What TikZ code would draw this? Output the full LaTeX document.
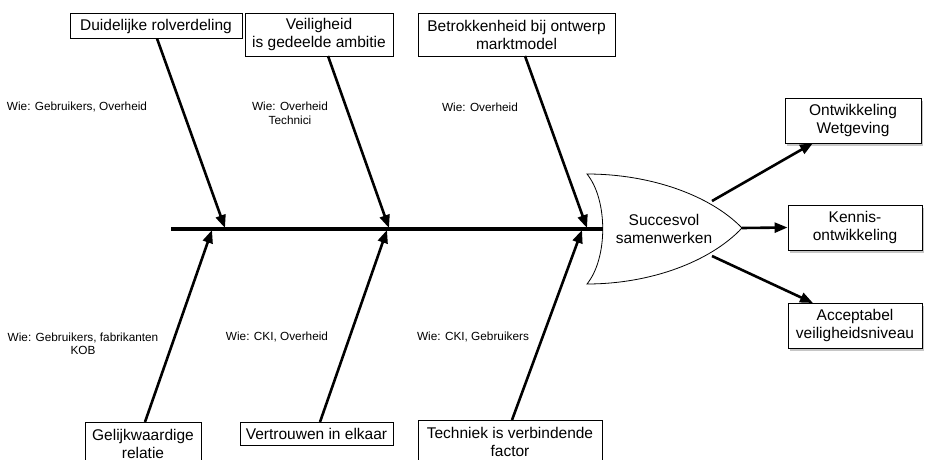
\documentclass[tikz,border=0pt]{standalone}
\usepackage{fontspec}
\setmainfont{Liberation Sans}
\usetikzlibrary{arrows.meta,shadows}
\begin{document}
\begin{tikzpicture}[x=1pt,y=-1pt,
  box/.style={draw,line width=0.9pt,fill=white,font=\fontsize{15.5}{18}\selectfont,align=center,inner sep=0pt},
  rbox/.style={box,drop shadow={shadow xshift=2pt,shadow yshift=-3pt,opacity=0.45}},
  lab/.style={font=\fontsize{11.8}{13.5}\selectfont,align=center,inner sep=0pt},
  bone/.style={line width=2.6pt,-{Triangle[length=13pt,width=10pt]}},
  spine/.style={line width=3.5pt},
  headshape/.style={draw,line width=0.8pt,fill=white}]
\useasboundingbox (0,0) rectangle (926,460);

% head of the fish
\draw[headshape] (587,174) .. controls (608,200) and (608,258) .. (587,284)
  .. controls (650,284) and (710,262) .. (742,228)
  .. controls (710,195) and (650,174) .. (587,174) -- cycle;
\node[font=\fontsize{15.5}{18}\selectfont,align=center] (head) at (664,229) {Succesvol\\samenwerken};

% spine
\coordinate (s0) at (171,229);
\coordinate (s1) at (603,229);
\draw[spine] (s0) -- (s1);

% top cause boxes
\node[box,minimum width=172pt,minimum height=25pt] (b1) at (156,26) {Duidelijke rolverdeling};
\node[box,minimum width=148pt,minimum height=43pt] (b2) at (319,34.5) {Veiligheid\\is gedeelde ambitie};
\node[box,minimum width=197pt,minimum height=43pt] (b3) at (516.5,34.5) {Betrokkenheid bij ontwerp\\marktmodel};

% bottom cause boxes
\node[box,minimum width=116pt,minimum height=43pt] (c1) at (143,443.5) {Gelijkwaardige\\relatie};
\node[box,minimum width=153pt,minimum height=23pt] (c2) at (316.5,433.5) {Vertrouwen in elkaar};
\node[box,minimum width=184pt,minimum height=43pt] (c3) at (510,441.5) {Techniek is verbindende\\factor};

% effect boxes
\node[rbox,minimum width=136pt,minimum height=45pt] (r1) at (853,120.5) {Ontwikkeling\\Wetgeving};
\node[rbox,minimum width=134pt,minimum height=45pt] (r2) at (855,227.5) {Kennis-\\ontwikkeling};
\node[rbox,minimum width=134pt,minimum height=45pt] (r3) at (855,325.5) {Acceptabel\\veiligheidsniveau};

% bone anchor coordinates
\coordinate (b1s) at (157,38.5);
\coordinate (b2s) at (328,56);
\coordinate (b3s) at (525,56);
\coordinate (a1) at (225,228);
\coordinate (a2) at (389,228);
\coordinate (a3) at (587,228);
\coordinate (c1n) at (145,422);
\coordinate (c2n) at (320,422);
\coordinate (c3n) at (512,420);
\coordinate (d1) at (212,230);
\coordinate (d2) at (387,230);
\coordinate (d3) at (582,230);

\draw[bone] (b1s) -- (a1);
\draw[bone] (b2s) -- (a2);
\draw[bone] (b3s) -- (a3);
\draw[bone] (c1n) -- (d1);
\draw[bone] (c2n) -- (d2);
\draw[bone] (c3n) -- (d3);

% effects
\coordinate (h1) at (712,201);
\coordinate (h2) at (742,228);
\coordinate (h3) at (712,256);
\coordinate (t1) at (813,143);
\coordinate (t3) at (813,303);
\draw[bone] (h1) -- (t1);
\draw[bone] (h2) -- (r2.west);
\draw[bone] (h3) -- (t3);

% labels
\node[lab] (l1) at (77,107) {Wie: Gebruikers, Overheid};
\node[lab] (l2) at (290,113.5) {Wie: Overheid\\Technici};
\node[lab] (l3) at (480,107) {Wie: Overheid};
\node[lab] (l4) at (83,344) {Wie: Gebruikers, fabrikanten\\KOB};
\node[lab] (l5) at (277,337) {Wie: CKI, Overheid};
\node[lab] (l6) at (473,337) {Wie: CKI, Gebruikers};
\end{tikzpicture}
\end{document}
